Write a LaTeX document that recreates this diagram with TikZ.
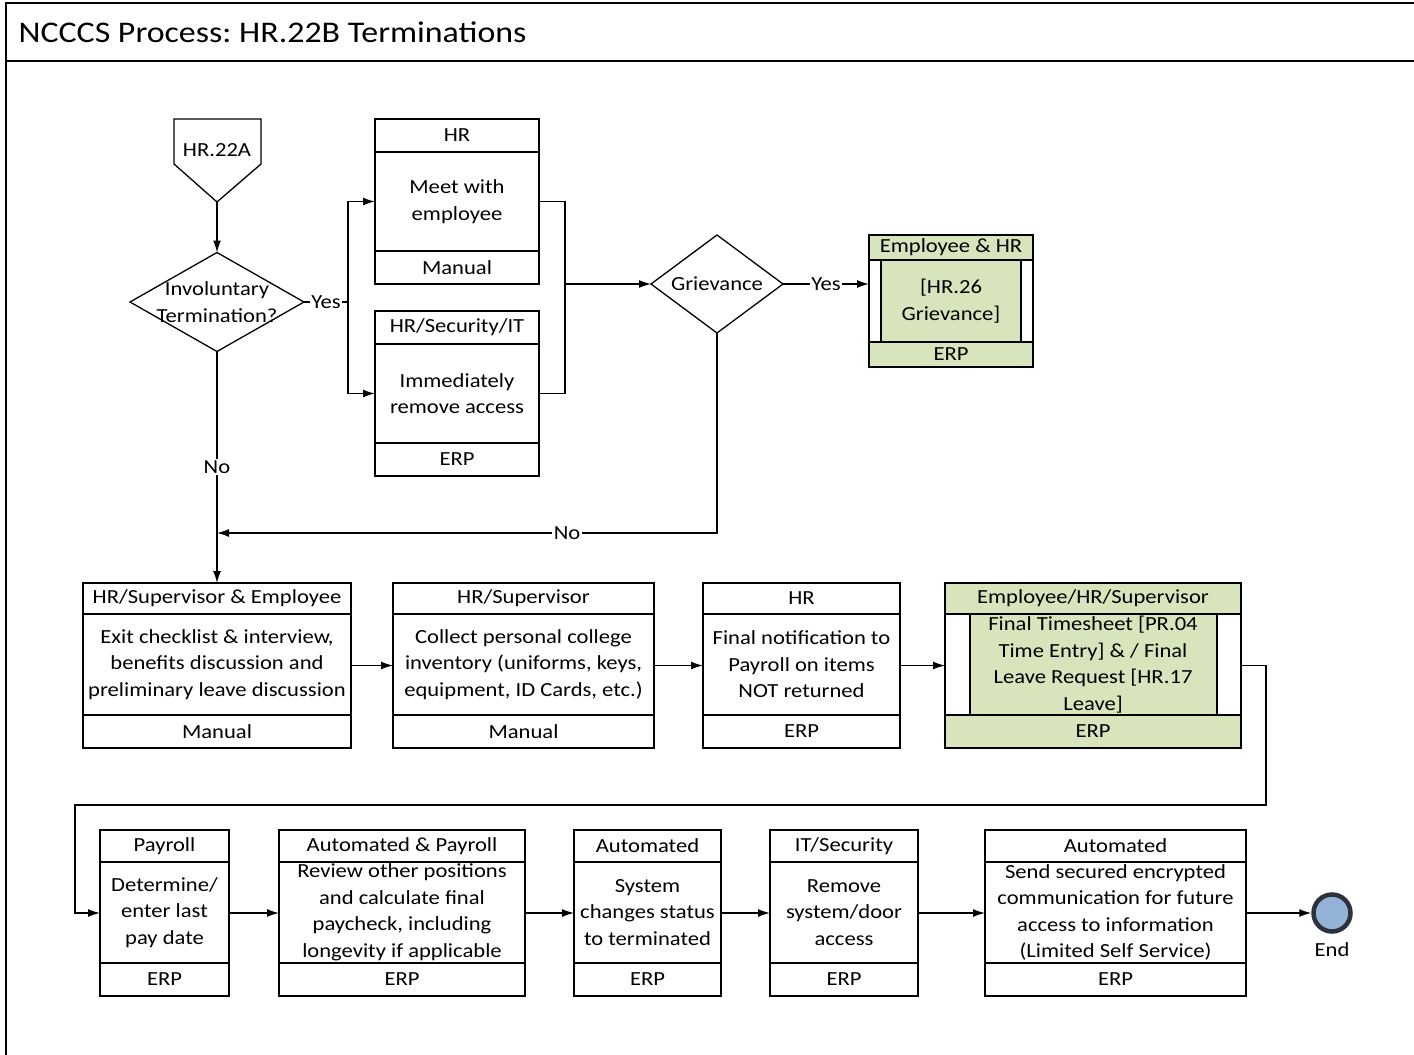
\documentclass[tikz,border=0pt]{standalone}
\usepackage{fontspec}
\setmainfont{Carlito}[FakeStretch=1.13]
\usetikzlibrary{arrows.meta,shapes.geometric,calc}
\frenchspacing

\definecolor{taskgreen}{RGB}{216,228,188}
\definecolor{endblue}{RGB}{149,179,215}
\definecolor{ringgray}{RGB}{45,50,60}

\tikzset{
  frame/.style={draw, rectangle, inner sep=0pt, outer sep=0pt},
  txt/.style={font=\fontsize{20}{26.5}\selectfont, align=center, inner sep=0pt},
  lbl/.style={txt, fill=white, inner sep=1.5pt},
  decision/.style={draw, diamond, inner sep=0pt, outer sep=0pt},
}

% #1 name, #2 geometry x1/x2/ytop/yheader/yfooter/ybottom,
% #3 role, #4 activity, #5 system, #6 fill
\newcommand\procbox[6]{%
  \foreach \xa/\xb/\ya/\yh/\yf/\yb in {#2}{%
    \pgfmathsetmacro\bw{\xb-\xa}%
    \pgfmathsetmacro\bh{\yb-\ya}%
    \node[frame, fill=#6, minimum width=\bw pt, minimum height=\bh pt]
      (#1) at ({(\xa+\xb)/2},{(\ya+\yb)/2}) {};
    \draw (\xa,\yh) -- (\xb,\yh) (\xa,\yf) -- (\xb,\yf);
    \node[txt] (#1-h) at ({(\xa+\xb)/2},{(\ya+\yh)/2}) {#3};
    \node[txt] (#1-b) at ({(\xa+\xb)/2},{(\yh+\yf)/2}) {#4};
    \node[txt] (#1-f) at ({(\xa+\xb)/2},{(\yf+\yb)/2}) {#5};
  }}

\begin{document}
\begin{tikzpicture}[x=1pt, y=-1pt, line width=1.3pt,
  >={Latex[length=12pt,width=8pt]}]
\useasboundingbox (0,0) rectangle (1414,1055);
\fill[white] (0,0) rectangle (1414,1055);

% page frame and title bar
\draw (6,1060) -- (6,3) -- (1420,3);
\draw (6,61) -- (1420,61);
\node[font=\fontsize{30}{34}\selectfont, anchor=west, inner sep=0pt]
  (title) at (18,32) {NCCCS Process: HR.22B Terminations};

% off-page reference
\draw (174,119) -- (261,119) -- (261,164) -- (217,202) -- (174,164) -- cycle;
\node[txt] (hr22a) at (217,150) {HR.22A};
\coordinate (offpage) at (217,202);

% decisions
\node[decision, minimum width=174pt, minimum height=99pt] (inv) at (217,302) {};
\node[txt] (inv-t) at (217,302) {Involuntary\\Termination?};
\node[decision, minimum width=132pt, minimum height=98pt] (griev) at (717,284) {};
\node[txt] (griev-t) at (717,284) {Grievance};

% first branch
\procbox{meet}{375/539/119/152/251/284}{HR}{Meet with\\employee}{Manual}{white}
\procbox{sec}{375/539/311/344/443/476}{HR/Security/IT}{Immediately\\remove access}{ERP}{white}

% grievance sub-process
\fill[taskgreen] (869,235) rectangle (1033,260) (869,342) rectangle (1033,367)
  (881,260) rectangle (1021,342);
\procbox{emphr}{869/1033/235/260/342/367}{Employee \& HR}{[HR.26\\Grievance]}{ERP}{none}
\draw (881,260) -- (881,342) (1021,260) -- (1021,342);

% second row
\procbox{exit}{83/351/583/614/715/748}{HR/Supervisor \& Employee}
  {Exit checklist \& interview,\\benefits discussion and\\preliminary leave discussion}{Manual}{white}
\procbox{collect}{393/654/583/614/715/748}{HR/Supervisor}
  {Collect personal college\\inventory (uniforms, keys,\\equipment, ID Cards, etc.)}{Manual}{white}
\procbox{notify}{703/900/583/614/715/748}{HR}
  {Final notification to\\Payroll on items\\NOT returned}{ERP}{white}
\fill[taskgreen] (945,583) rectangle (1241,614) (945,715) rectangle (1241,748)
  (970,614) rectangle (1217,715);
\procbox{final}{945/1241/583/614/715/748}{Employee/HR/Supervisor}
  {Final Timesheet [PR.04\\Time Entry] \& / Final\\Leave Request [HR.17\\Leave]}{ERP}{none}
\draw (970,614) -- (970,715) (1217,614) -- (1217,715);

% third row
\procbox{pay}{100/229/830/862/963/996}{Payroll}{Determine/\\enter last\\pay date}{ERP}{white}
\procbox{review}{279/525/830/862/963/996}{Automated \& Payroll}
  {Review other positions\\and calculate final\\paycheck, including\\longevity if applicable}{ERP}{white}
\procbox{status}{574/721/830/862/963/996}{Automated}{System\\changes status\\to terminated}{ERP}{white}
\procbox{remove}{770/918/830/862/963/996}{IT/Security}{Remove\\system/door\\access}{ERP}{white}
\procbox{send}{985/1246/830/862/963/996}{Automated}
  {Send secured encrypted\\communication for future\\access to information\\(Limited Self Service)}{ERP}{white}

% end event
\node[circle, draw=ringgray, line width=4.5pt, fill=endblue, minimum size=37pt,
  inner sep=0pt] (endev) at (1332,913) {};
\node[txt] (endlbl) at (1332,950) {End};

% connectors
\coordinate (split) at (348,302);
\coordinate (merge) at (565,284);
\coordinate (rejoin) at (217,533);
\coordinate (w1) at (1266,805);
\coordinate (w2) at (75,805);

\draw[->] (offpage) -- (inv.north);
\draw (inv.east) -- node[lbl] (yes1) {Yes} (split);
\draw[->] (split) |- (meet.west);
\draw[->] (split) |- (sec.west);
\draw (meet.east) -| (merge);
\draw (sec.east) -| (merge);
\draw[->] (merge) -- (griev.west);
\draw[->] (griev.east) -- node[lbl] (yes2) {Yes} (griev.east -| emphr.west);
\draw[->] (griev.south) |- node[lbl, pos=0.65] (no2) {No} (rejoin);
\draw[->] (inv.south) -- node[lbl] (no1) {No} (inv.south |- exit.north);

\draw[->] (exit.east) -- (collect.west);
\draw[->] (collect.east) -- (notify.west);
\draw[->] (notify.east) -- (final.west);
\draw[->] (final.east) -| (w1) -- (w2) |- (pay.west);

\draw[->] (pay.east) -- (review.west);
\draw[->] (review.east) -- (status.west);
\draw[->] (status.east) -- (remove.west);
\draw[->] (remove.east) -- (send.west);
\draw[->] (send.east) -- (endev.west);
\end{tikzpicture}
\end{document}
